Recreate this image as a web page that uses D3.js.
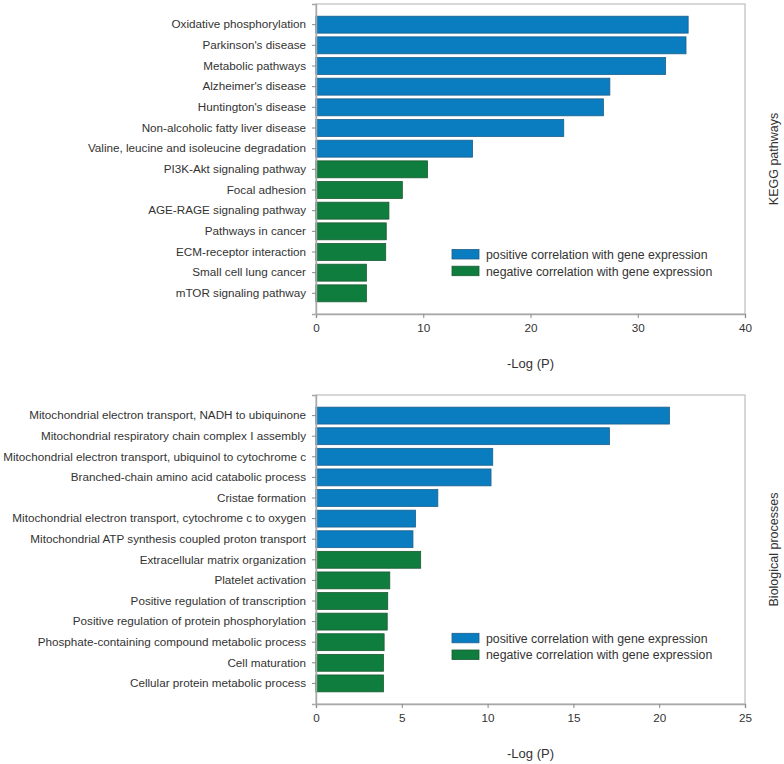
<!DOCTYPE html>
<html><head><meta charset="utf-8">
<script src="https://cdn.jsdelivr.net/npm/d3@7"></script>
<style>body{margin:0;background:#fff}svg{display:block}text{font-family:"Liberation Sans",Arial,sans-serif}</style>
</head><body>
<svg id="c" width="784" height="764"></svg>
<script>
const keggTerms = ["Oxidative phosphorylation","Parkinson's disease","Metabolic pathways","Alzheimer's disease","Huntington's disease","Non-alcoholic fatty liver disease","Valine, leucine and isoleucine degradation","PI3K-Akt signaling pathway","Focal adhesion","AGE-RAGE signaling pathway","Pathways in cancer","ECM-receptor interaction","Small cell lung cancer","mTOR signaling pathway"];
const keggValues = [34.7,34.5,32.6,27.4,26.8,23.1,14.6,10.4,8.05,6.8,6.55,6.5,4.7,4.7];
const keggSign = ["pos","pos","pos","pos","pos","pos","pos","neg","neg","neg","neg","neg","neg","neg"];
const keggTicks = [0,10,20,30,40];

const bpTerms = ["Mitochondrial electron transport, NADH to ubiquinone","Mitochondrial respiratory chain complex I assembly","Mitochondrial electron transport, ubiquinol to cytochrome c","Branched-chain amino acid catabolic process","Cristae formation","Mitochondrial electron transport, cytochrome c to oxygen","Mitochondrial ATP synthesis coupled proton transport","Extracellular matrix organization","Platelet activation","Positive regulation of transcription","Positive regulation of protein phosphorylation","Phosphate-containing compound metabolic process","Cell maturation","Cellular protein metabolic process"];
const bpValues = [20.6,17.1,10.3,10.2,7.1,5.8,5.65,6.1,4.3,4.18,4.15,3.97,3.93,3.93];
const bpSign = ["pos","pos","pos","pos","pos","pos","pos","neg","neg","neg","neg","neg","neg","neg"];
const bpTicks = [0,5,10,15,20,25];

const legendLabels = ["positive correlation with gene expression","negative correlation with gene expression"];
const fills = {pos:"#0a7dc1", neg:"#0f7d3d"};
const strokes = {pos:"#1f5f8a", neg:"#1d5a33"};

const svg = d3.select("#c");
const textColor = "#333";

function panel(terms, values, signs, ticks, top, bottom, title) {
  const left = 316, right = 745;
  const g = svg.append("g");
  const x = d3.scaleLinear().domain([ticks[0], ticks[ticks.length-1]]).range([left, right]);
  const y = d3.scaleBand().domain(terms).range([top, bottom]).paddingInner(0.18).paddingOuter(0.59);
  g.append("rect").attr("x", left).attr("y", top).attr("width", right-left).attr("height", bottom-top)
    .attr("fill","none").attr("stroke","#bdbdbd").attr("stroke-width",1.2);
  g.selectAll("rect.bar").data(terms).enter().append("rect").attr("class","bar")
    .attr("x", x(0)).attr("y", d => y(d)).attr("height", y.bandwidth())
    .attr("width", (d,i) => x(values[i]) - x(0))
    .attr("fill", (d,i) => fills[signs[i]]).attr("stroke", (d,i) => strokes[signs[i]]).attr("stroke-width",0.8);
  const ax = g.append("g").attr("transform",`translate(0,${bottom})`)
    .call(d3.axisBottom(x).tickValues(ticks).tickSize(4).tickPadding(6));
  const ay = g.append("g").attr("transform",`translate(${left},0)`)
    .call(d3.axisLeft(y).tickSize(4).tickPadding(6));
  [ax, ay].forEach(a => {
    a.select(".domain").attr("stroke","#a8a8a8").attr("stroke-width",1.4);
    a.selectAll(".tick line").attr("stroke","#888");
    a.selectAll("text").attr("fill",textColor).attr("font-size",11.7).attr("font-family","'Liberation Sans',Arial,sans-serif");
  });
  g.append("text").attr("x",(left+right)/2).attr("y",bottom+54).attr("text-anchor","middle")
    .attr("fill",textColor).attr("font-size",13).text("-Log (P)");
  g.append("text").attr("transform",`translate(778,${(top+bottom)/2}) rotate(-90)`).attr("text-anchor","middle")
    .attr("fill",textColor).attr("font-size",12.5).text(title);
  return {x, y};
}

panel(keggTerms, keggValues, keggSign, keggTicks, 4, 314, "KEGG pathways");
panel(bpTerms, bpValues, bpSign, bpTicks, 395, 704, "Biological processes");

function legend(yTop) {
  const lg = svg.append("g");
  ["pos","neg"].forEach((k,i) => {
    lg.append("rect").attr("x",452).attr("y",yTop + i*16.7).attr("width",27).attr("height",9.5)
      .attr("fill",fills[k]).attr("stroke",strokes[k]).attr("stroke-width",0.8);
    lg.append("text").attr("x",486).attr("y",yTop + i*16.7 + 5).attr("dy","0.35em")
      .attr("fill",textColor).attr("font-size",12.3).text(legendLabels[i]);
  });
}
legend(249.5);
legend(633.3);
</script>
</body></html>
